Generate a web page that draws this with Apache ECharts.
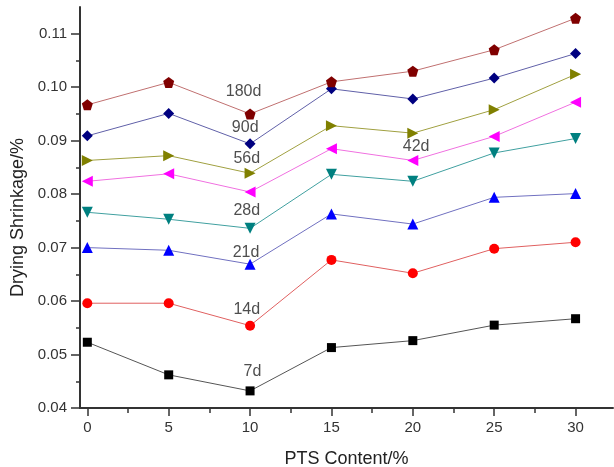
<!DOCTYPE html>
<html>
<head>
<meta charset="utf-8">
<script src="https://cdn.jsdelivr.net/npm/echarts@6/dist/echarts.min.js"></script>
<style>
  html, body { margin: 0; padding: 0; background: #fff; }
  #chart { width: 614px; height: 467px; }
</style>
</head>
<body>
<div id="chart"></div>
<script>
// PTS content (%)
const ptsContent = [0, 5, 10, 15, 20, 25, 30];

// drying shrinkage (%) per curing age
const d7   = [0.0523, 0.0462, 0.0432, 0.0513, 0.0526, 0.0555, 0.0567];
const d14  = [0.0596, 0.0596, 0.0554, 0.0677, 0.0652, 0.0698, 0.0710];
const d21  = [0.0700, 0.0695, 0.0669, 0.0763, 0.0744, 0.0794, 0.0801];
const d28  = [0.0766, 0.0753, 0.0736, 0.0837, 0.0824, 0.0877, 0.0904];
const d42  = [0.0824, 0.0838, 0.0804, 0.0885, 0.0863, 0.0908, 0.0972];
const d56  = [0.0863, 0.0872, 0.0839, 0.0928, 0.0914, 0.0958, 0.1024];
const d90  = [0.0909, 0.0951, 0.0894, 0.0997, 0.0978, 0.1017, 0.1063];
const d180 = [0.0967, 0.1009, 0.0950, 0.1010, 0.1030, 0.1070, 0.1129];

// in-plot age labels: [text, x, y]
const ageLabels = [
    ['180d', 9.6, 0.0992],
    ['90d', 9.7, 0.0925],
    ['56d', 9.8, 0.0866],
    ['28d', 9.8, 0.0769],
    ['21d', 9.75, 0.0691],
    ['14d', 9.8, 0.0584],
    ['7d', 10.15, 0.0468],
    ['42d', 20.2, 0.0888]
];

const xTicks = [0, 5, 10, 15, 20, 25, 30];
const xMinor = [2.5, 7.5, 12.5, 17.5, 22.5, 27.5, 32.5];
const yTicks = [0.04, 0.05, 0.06, 0.07, 0.08, 0.09, 0.10, 0.11];
const yMinor = [0.045, 0.055, 0.065, 0.075, 0.085, 0.095, 0.105];

const pentagon = 'path://M0,-10L9.51,-3.09L5.88,8.09L-5.88,8.09L-9.51,-3.09Z';
const axisColor = '#333';

const chart = echarts.init(document.getElementById('chart'));

function line(name, data, symbol, marker, lineColor, size, rotate) {
    return {
        name: name,
        type: 'line',
        data: ptsContent.map((x, i) => [x, data[i]]),
        symbol: symbol,
        symbolSize: size,
        symbolRotate: rotate || 0,
        showAllSymbol: true,
        itemStyle: { color: marker, opacity: 1 },
        lineStyle: { color: lineColor, width: 1 },
        z: 3
    };
}

const xBase = { type: 'value', min: -0.45, max: 32.3, splitLine: { show: false } };
const yBase = { type: 'value', min: 0.04, max: 0.115, splitLine: { show: false } };

chart.setOption({
    animation: false,
    textStyle: { fontFamily: 'Liberation Sans, Arial, sans-serif' },
    grid: { left: 80, right: 1, top: 7, bottom: 59, outerBoundsMode: 'none', containLabel: false },
    xAxis: [
        Object.assign({}, xBase, {
            name: 'PTS Content/%',
            nameLocation: 'middle',
            nameGap: 42,
            nameTextStyle: { fontSize: 18, color: '#222' },
            axisLine: { onZero: false, lineStyle: { color: axisColor, width: 2 } },
            axisTick: { show: true, customValues: xTicks, length: 8, lineStyle: { color: axisColor, width: 1.5 } },
            axisLabel: { customValues: xTicks, fontSize: 15, color: '#333', margin: 12 }
        }),
        // minor ticks
        Object.assign({}, xBase, {
            position: 'bottom',
            axisLine: { show: false, onZero: false },
            axisTick: { show: true, customValues: xMinor, length: 5, lineStyle: { color: axisColor, width: 1.5 } },
            axisLabel: { show: false }
        })
    ],
    yAxis: [
        Object.assign({}, yBase, {
            name: 'Drying Shrinkage/%',
            nameLocation: 'middle',
            nameGap: 45,
            nameTextStyle: { fontSize: 18, color: '#222', padding: [0, 20, 0, 0] },
            axisLine: { show: true, onZero: false, lineStyle: { color: axisColor, width: 2 } },
            axisTick: { show: true, customValues: yTicks, length: 9, lineStyle: { color: axisColor, width: 1.5 } },
            axisLabel: { customValues: yTicks, fontSize: 15, color: '#333', margin: 13,
                formatter: v => v.toFixed(2) }
        }),
        // minor ticks
        Object.assign({}, yBase, {
            position: 'left',
            axisLine: { show: false, onZero: false },
            axisTick: { show: true, customValues: yMinor, length: 4, lineStyle: { color: axisColor, width: 1.5 } },
            axisLabel: { show: false }
        })
    ],
    series: [
        line('7d', d7, 'rect', '#000000', '#555555', 9),
        line('14d', d14, 'circle', '#ff0000', '#e06060', 10),
        line('21d', d21, 'triangle', '#0000ff', '#7070c0', 11),
        line('28d', d28, 'triangle', '#008080', '#40a0a0', 11, 180),
        line('42d', d42, 'triangle', '#ff00ff', '#f070e0', 11, 90),
        line('56d', d56, 'triangle', '#808000', '#a0a040', 11, -90),
        line('90d', d90, 'diamond', '#000080', '#6060a8', 11),
        line('180d', d180, pentagon, '#800000', '#c07070', 11),
        {
            type: 'scatter',
            data: ageLabels.map(l => ({ name: l[0], value: [l[1], l[2]] })),
            symbolSize: 0,
            silent: true,
            z: 5,
            label: {
                show: true,
                position: 'inside',
                formatter: p => p.name,
                fontSize: 16,
                color: '#222'
            }
        }
    ]
});
</script>
</body>
</html>
